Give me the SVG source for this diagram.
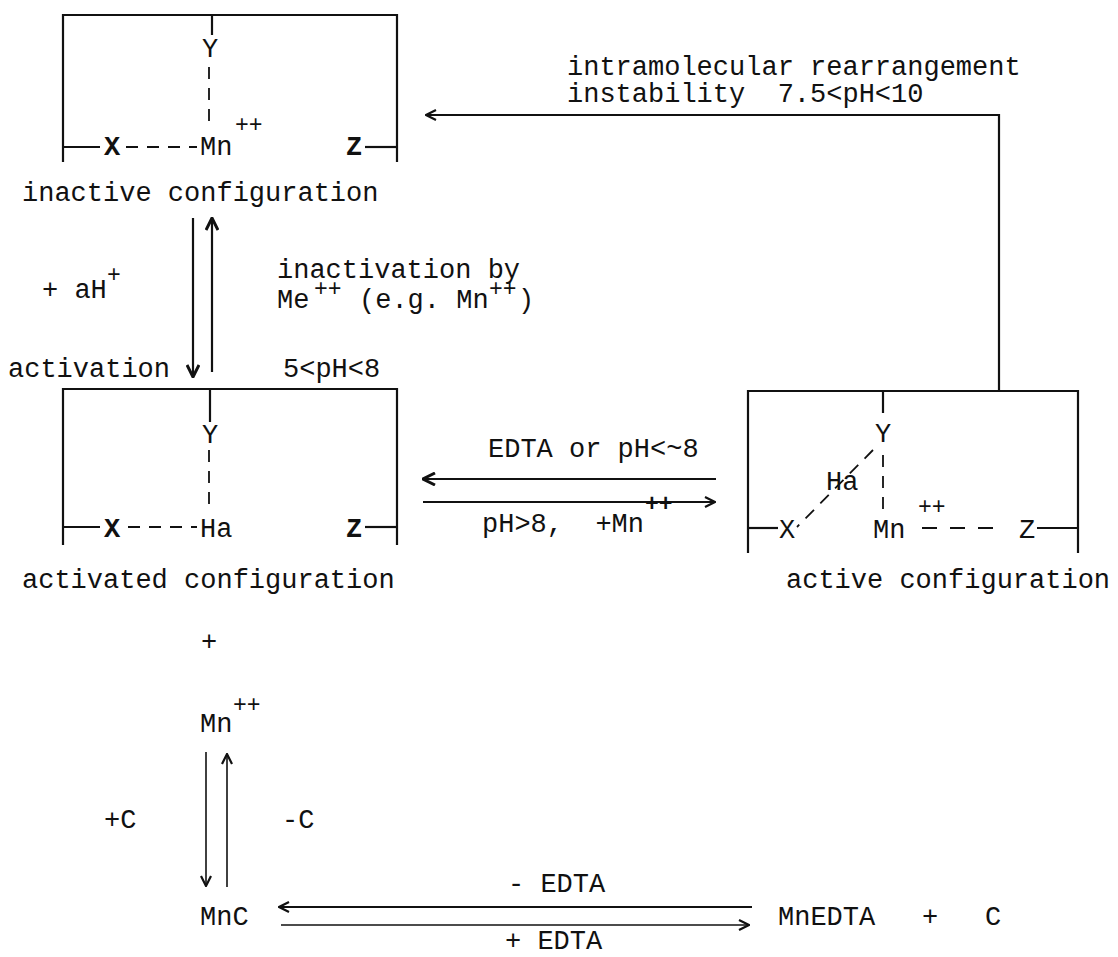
<svg xmlns="http://www.w3.org/2000/svg" width="1118" height="957" viewBox="0 0 1118 957">
<style>
text{font-family:"Liberation Mono","DejaVu Sans Mono",monospace;font-size:27px;fill:#111}
.b{font-weight:bold}
.sup{font-size:23px}
.ln{stroke:#111;stroke-width:2.2;fill:none}
.th{stroke:#111;stroke-width:1.6;fill:none}
.ds{stroke:#111;stroke-width:1.8;fill:none;stroke-dasharray:12 9}
</style>
<defs>
<marker id="ah" viewBox="0 0 12 12" refX="11" refY="6" markerWidth="12" markerHeight="12" markerUnits="userSpaceOnUse" orient="auto">
<path d="M1,1 L11,6 L1,11" fill="none" stroke="#111" stroke-width="2.2"/>
</marker>
<marker id="ahb" viewBox="0 0 14 14" refX="13" refY="7" markerWidth="14" markerHeight="14" markerUnits="userSpaceOnUse" orient="auto">
<path d="M1,1 L13,7 L1,13" fill="none" stroke="#111" stroke-width="3"/>
</marker>
</defs>

<g id="inactive">
<path class="ln" d="M63,162 V15 H397 V162"/>
<path class="ln" d="M212,15 V35"/>
<text x="202" y="57">Y</text>
<path class="ds" d="M209,67 V123"/>
<path class="ln" d="M63,147 H100"/>
<text class="b" x="104" y="155">X</text>
<path class="ds" d="M126,147 H197"/>
<text x="200" y="155">Mn</text>
<text class="sup" x="235" y="132">++</text>
<text class="b" x="346" y="155">Z</text>
<path class="ln" d="M365,147 H397"/>
<text x="22" y="201">inactive configuration</text>
</g>

<g id="activated">
<path class="ln" d="M63,545 V389 H397 V545"/>
<path class="ln" d="M210,389 V422"/>
<text x="202" y="443">Y</text>
<path class="ds" d="M209,450 V512"/>
<path class="ln" d="M63,527 H100"/>
<text class="b" x="104" y="537">X</text>
<path class="ds" d="M128,527 H197"/>
<text x="200" y="537">Ha</text>
<text class="b" x="346" y="537">Z</text>
<path class="ln" d="M365,527 H397"/>
<text x="22" y="588">activated configuration</text>
</g>

<g id="active">
<path class="ln" d="M748,553 V391 H1078 V553"/>
<path class="ln" d="M883,391 V413"/>
<text x="875" y="442">Y</text>
<path class="ds" d="M883,455 V515"/>
<path class="ds" d="M873,450 L797,527"/>
<text x="826" y="490">Ha</text>
<path class="ln" d="M748,528 H778"/>
<text x="779" y="538">X</text>
<text x="873" y="538">Mn</text>
<text class="sup" x="918" y="514">++</text>
<path class="ds" d="M922,528 H1000" style="stroke-dasharray:15 13"/>
<text x="1019" y="538">Z</text>
<path class="ln" d="M1037,528 H1078"/>
<text x="786" y="588">active configuration</text>
</g>

<g id="mn">
<text x="201" y="650">+</text>
<text x="200" y="732">Mn</text>
<text class="sup" x="233" y="712">++</text>
</g>

<g id="mnc">
<text x="200" y="925">MnC</text>
</g>

<g id="mnedta">
<text x="778" y="925">MnEDTA</text>
<text x="922" y="925">+</text>
<text x="985" y="925">C</text>
</g>

<g id="connectors">
<path class="ln" d="M193,218 V377" marker-end="url(#ahb)"/>
<path class="ln" d="M212,372 V218" marker-end="url(#ahb)"/>
<path class="ln" d="M999,391 V115 H426" marker-end="url(#ah)"/>
<path class="ln" d="M716,479 H423" marker-end="url(#ahb)"/>
<path class="ln" d="M423,502 H715" marker-end="url(#ah)"/>
<path class="th" d="M206,752 V886" marker-end="url(#ah)"/>
<path class="th" d="M227,887 V754" marker-end="url(#ah)"/>
<path class="ln" d="M752,907 H279" marker-end="url(#ah)"/>
<path class="th" d="M281,925 H749" marker-end="url(#ah)"/>
</g>

<g id="labels">
<text x="567" y="75">intramolecular rearrangement</text>
<text x="567" y="102" xml:space="preserve">instability  7.5&lt;pH&lt;10</text>
<text x="42" y="298">+ aH</text>
<text class="sup" x="107" y="282">+</text>
<text x="277" y="278">inactivation by</text>
<text x="277" y="308">Me</text>
<text class="sup" x="314" y="296">++</text>
<text x="359" y="308">(e.g. Mn</text>
<text class="sup" x="489" y="296">++</text>
<text x="518" y="308">)</text>
<text x="8" y="377">activation</text>
<text x="283" y="377">5&lt;pH&lt;8</text>
<text x="488" y="457">EDTA or pH&lt;~8</text>
<text x="482" y="532" xml:space="preserve">pH&gt;8,  +Mn</text>
<text class="sup b" x="645" y="511">++</text>
<text x="104" y="828">+C</text>
<text x="282" y="828">-C</text>
<text x="508" y="892">- EDTA</text>
<text x="505" y="949">+ EDTA</text>
</g>
</svg>
